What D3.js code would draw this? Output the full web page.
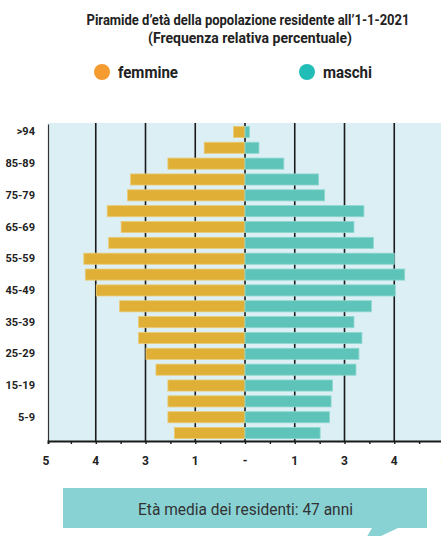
<!DOCTYPE html>
<html>
<head>
<meta charset="utf-8">
<script src="https://cdn.jsdelivr.net/npm/d3@7"></script>
<style>
  body { margin: 0; background: #fff; }
  svg text { font-family: Roboto, "DejaVu Sans", sans-serif; }
</style>
</head>
<body>
<svg width="441" height="536"></svg>
<script>
// age groups, top to bottom
var ages = [">94", "90-94", "85-89", "80-84", "75-79", "70-74", "65-69", "60-64", "55-59", "50-54",
            "45-49", "40-44", "35-39", "30-34", "25-29", "20-24", "15-19", "10-14", "5-9", "0-4"];
var femmine = [0.23, 0.82, 1.55, 2.30, 2.36, 2.77, 2.49, 2.74, 3.24, 3.21,
               2.99, 2.52, 2.14, 2.14, 1.99, 1.79, 1.55, 1.55, 1.55, 1.42];
var maschi = [0.09, 0.28, 0.78, 1.48, 1.60, 2.39, 2.19, 2.58, 3.00, 3.21,
              3.02, 2.54, 2.19, 2.35, 2.29, 2.23, 1.76, 1.73, 1.70, 1.51];
var ageLabels = [">94", "85-89", "75-79", "65-69", "55-59", "45-49", "35-39", "25-29", "15-19", "5-9"];
var gridValues = [-3, -2, -1, 0, 1, 2, 3];
var xTickValues = [-4, -3, -2, -1, 0, 1, 2, 3, 4];
var xTickLabels = ["5", "4", "3", "1", "-", "1", "3", "4", "5"];

var svg = d3.select("svg"),
    margin = {top: 124, right: 0, bottom: 95, left: 48},
    width = 441 - margin.left - margin.right,
    height = 536 - margin.top - margin.bottom;

var colF = "#DFB035", colM = "#5EC4B9";

// title (squeezed to the condensed look of the original)
svg.append("text")
    .attr("x", 248).attr("y", 25)
    .attr("text-anchor", "middle")
    .attr("textLength", 323).attr("lengthAdjust", "spacingAndGlyphs")
    .style("font-size", "14px").style("font-weight", "bold").attr("fill", "#222")
    .text("Piramide d\u2019età della popolazione residente all\u20191-1-2021");
svg.append("text")
    .attr("x", 250).attr("y", 43)
    .attr("text-anchor", "middle")
    .attr("textLength", 204).attr("lengthAdjust", "spacingAndGlyphs")
    .style("font-size", "14px").style("font-weight", "bold").attr("fill", "#222")
    .text("(Frequenza relativa percentuale)");

// legend
var legend = [{name: "femmine", c: "#F59B2F", x: 102, w: 60}, {name: "maschi", c: "#22BDB6", x: 307, w: 49}];
legend.forEach(function(l) {
    svg.append("circle").attr("cx", l.x).attr("cy", 72).attr("r", 8).attr("fill", l.c);
    svg.append("text").attr("x", l.x + 16).attr("y", 78)
        .attr("textLength", l.w).attr("lengthAdjust", "spacingAndGlyphs")
        .style("font-size", "16px").style("font-weight", "bold").attr("fill", "#222")
        .text(l.name);
});

var x = d3.scaleLinear().domain([-3.96, 4]).range([0, 396]);
var y = d3.scaleBand().domain(ages).range([0, 317]).paddingInner(0.3).paddingOuter(0.15);

var g = svg.append("g")
    .attr("transform", "translate(" + margin.left + "," + margin.top + ")");

g.append("rect")
    .attr("x", 0).attr("y", -1)
    .attr("width", width).attr("height", 318)
    .attr("fill", "#DBEFF5");

// grid lines
g.selectAll(".grid")
    .data(gridValues)
  .enter().append("line")
    .attr("x1", function(d) { return x(d); })
    .attr("x2", function(d) { return x(d); })
    .attr("y1", -1).attr("y2", 317)
    .attr("stroke", "#1a1a1a").attr("stroke-width", 1.6);

// bars
g.selectAll(".barF")
    .data(ages)
  .enter().append("rect")
    .attr("x", function(d, i) { return x(-femmine[i]); })
    .attr("y", function(d) { return y(d); })
    .attr("width", function(d, i) { return x(0) - x(-femmine[i]); })
    .attr("height", y.bandwidth())
    .attr("fill", colF).attr("stroke", "#EBCB78").attr("stroke-width", 0.8);

g.selectAll(".barM")
    .data(ages)
  .enter().append("rect")
    .attr("x", x(0))
    .attr("y", function(d) { return y(d); })
    .attr("width", function(d, i) { return x(maschi[i]) - x(0); })
    .attr("height", y.bandwidth())
    .attr("fill", colM).attr("stroke", "#8ED7CF").attr("stroke-width", 0.8);

// y axis
var yAxis = g.append("g")
    .call(d3.axisLeft(y).tickValues(ageLabels).tickSize(0).tickPadding(13));
yAxis.select(".domain").attr("stroke", "#333").attr("stroke-width", 1.2);
yAxis.selectAll("text")
    .style("font-family", "Roboto, sans-serif")
    .style("font-size", "11px").style("font-weight", "bold").attr("fill", "#222");

// x axis
var xAxis = g.append("g")
    .attr("transform", "translate(0,317)")
    .call(d3.axisBottom(x).tickValues(d3.range(-3.5, 4.6, 0.5)).tickSizeOuter(0)
        .tickSize(3).tickFormat(""));
xAxis.select(".domain").attr("stroke", "#1a1a1a").attr("stroke-width", 2);
xAxis.selectAll(".tick line").attr("stroke", "#1a1a1a").attr("stroke-width", 1.4);

g.selectAll(".xlab")
    .data(xTickValues)
  .enter().append("text")
    .attr("x", function(d) { return x(d); })
    .attr("y", 341)
    .attr("text-anchor", "middle")
    .style("font-size", "12px").style("font-weight", "bold").attr("fill", "#222")
    .text(function(d, i) { return xTickLabels[i]; });

// banner
svg.append("path")
    .attr("d", "M63,488 L427,488 L427,528 L398,528 L362,545 L372,528 L63,528 Z")
    .attr("fill", "#88D2D4");
svg.append("text")
    .attr("x", 245.5).attr("y", 515)
    .attr("text-anchor", "middle")
    .attr("textLength", 215).attr("lengthAdjust", "spacingAndGlyphs")
    .style("font-size", "17px").attr("fill", "#333")
    .text("Età media dei residenti: 47 anni");
</script>
</body>
</html>
